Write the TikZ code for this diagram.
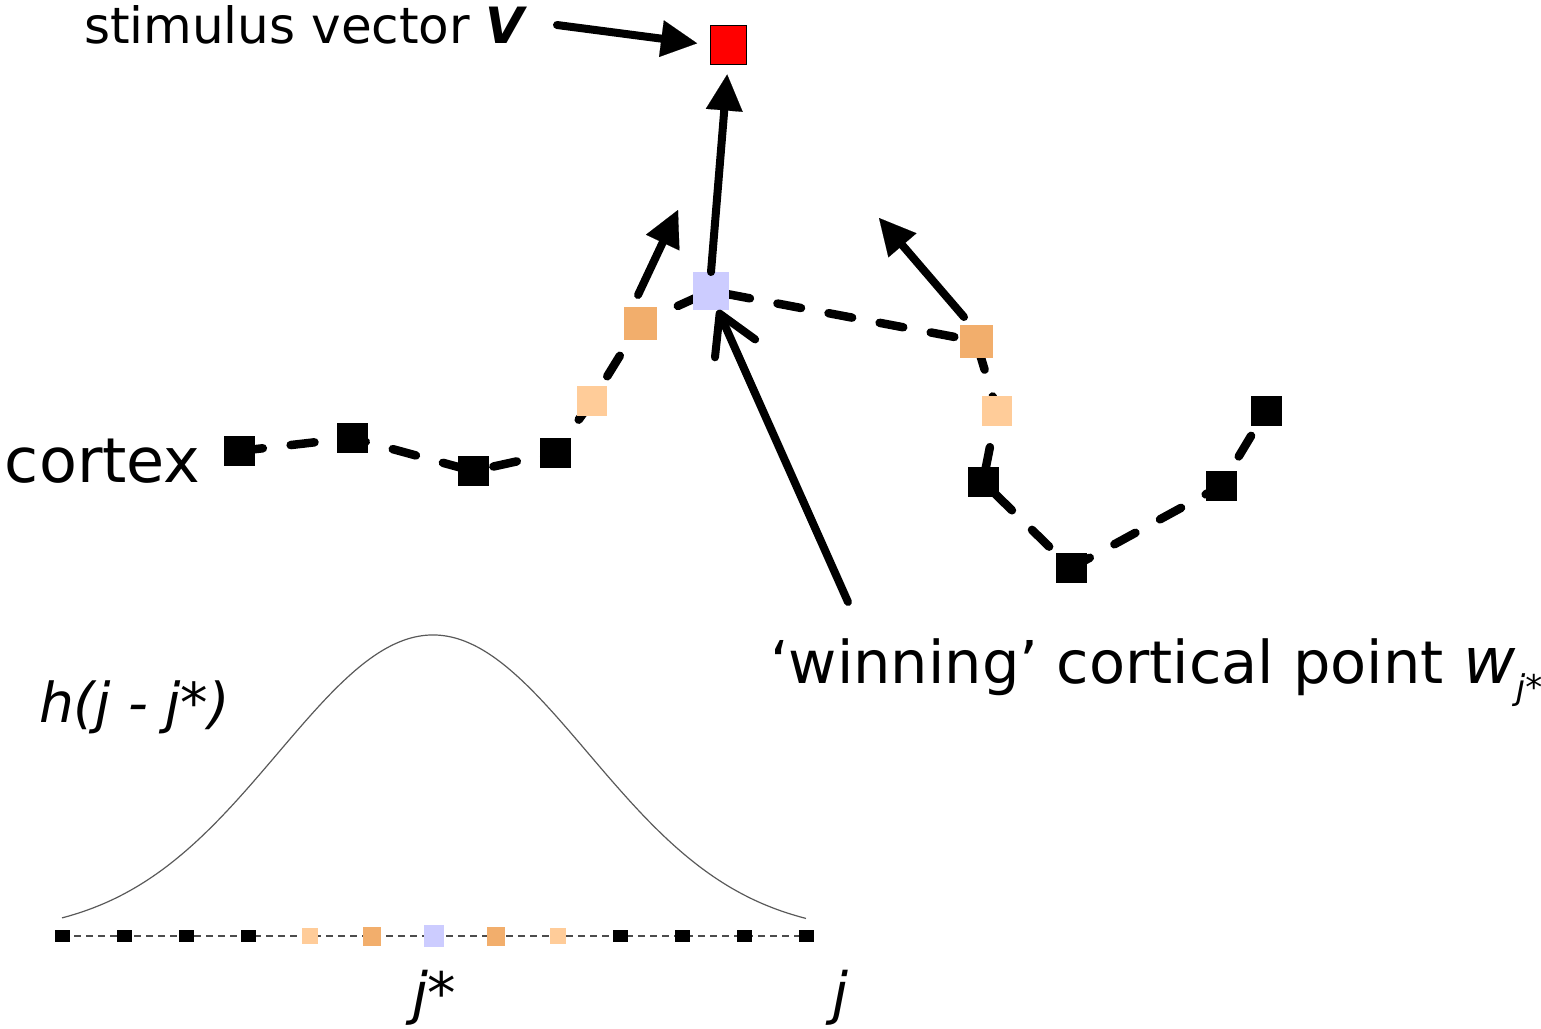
\documentclass[tikz,border=0pt]{standalone}
\usepackage{fontspec}
\setmainfont{DejaVu Sans}
\usetikzlibrary{arrows.meta,backgrounds}
\definecolor{orng}{HTML}{F2AE6C}
\definecolor{lorng}{HTML}{FFCC99}
\definecolor{lblue}{HTML}{CCCCFF}
\begin{document}
\begin{tikzpicture}[x=1pt,y=-1pt,
  blk/.style={rectangle, fill=black, inner sep=0pt, outer sep=0pt, minimum width=31pt, minimum height=30pt},
  org/.style={rectangle, fill=orng, inner sep=0pt, outer sep=0pt, minimum size=33pt},
  lorgbox/.style={rectangle, fill=lorng, inner sep=0pt, outer sep=0pt, minimum size=30pt},
  winbox/.style={rectangle, fill=lblue, inner sep=0pt, outer sep=0pt, minimum width=36pt, minimum height=38pt},
  redbox/.style={rectangle, fill=red, draw=black, line width=1pt, inner sep=0pt, outer sep=0pt, minimum width=36pt, minimum height=39pt},
  sblk/.style={rectangle, fill=black, inner sep=0pt, outer sep=0pt, minimum width=15pt, minimum height=12pt},
  slo/.style={rectangle, fill=lorng, inner sep=0pt, outer sep=0pt, minimum width=16pt, minimum height=16pt},
  sor/.style={rectangle, fill=orng, inner sep=0pt, outer sep=0pt, minimum width=18pt, minimum height=19pt},
  sbl/.style={rectangle, fill=lblue, inner sep=0pt, outer sep=0pt, minimum width=20pt, minimum height=22pt},
  cortexline/.style={line width=8.5pt, dash pattern=on 24pt off 28pt, line cap=round, line join=round},
  axisline/.style={line width=1.3pt, black!70, dash pattern=on 7pt off 5pt},
  gcurve/.style={line width=1.2pt, black!65},
  arr/.style={line width=8pt, line cap=round, -{Triangle[length=36pt,width=37pt,line width=0.1pt]}},
  barbarr/.style={line width=8pt, line cap=round, line join=round, -{Straight Barb[length=38pt,width=44pt,line cap=round,line join=round]}},
  lbl/.style={anchor=base west, inner sep=0pt, outer sep=0pt}
]
\useasboundingbox (0,0) rectangle (1541,1028);

% cortex points
\node[blk] (a1) at (239,451) {};
\node[blk] (a2) at (352,438) {};
\node[blk] (a3) at (473,471) {};
\node[blk] (a4) at (555,453) {};
\node[lorgbox] (a5) at (592,401) {};
\node[org] (a6) at (640,323) {};
\node[winbox] (win) at (711,291) {};
\node[org] (a8) at (976,341) {};
\node[lorgbox] (a9) at (997,411) {};
\node[blk] (a10) at (983,482) {};
\node[blk] (a11) at (1071,568) {};
\node[blk] (a12) at (1221,486) {};
\node[blk] (a13) at (1266,411) {};

\node[redbox] (red) at (728,45) {};

\begin{scope}[on background layer]
\draw[cortexline] (a1.center) -- (a2.center) -- (a3.center) -- (a4.center) -- (a5.center) -- (a6.center) -- (win.center) -- (a8.center) -- (a9.center) -- (a10.center) -- (a11.center) -- (a12.center) -- (a13.center);
\end{scope}

% labels
\node[lbl] (stim) at (84,43) {\fontsize{50}{50}\selectfont stimulus vector \textbf{\textit{V}}};
\node[lbl] (cortexlbl) at (5,482) {\fontsize{62}{62}\selectfont cortex};
\node[lbl] (winlbl) at (770,683) {\fontsize{59}{59}\selectfont ‘winning’ cortical point\hspace{20pt}{\fontsize{64}{64}\selectfont\itshape w}\raisebox{-16pt}{\fontsize{34}{34}\selectfont\itshape j*}};
\node[lbl] (hlbl) at (39,722) {\fontsize{55}{55}\selectfont\itshape h(j - j*)};
\node[lbl] (jstar) at (412,1013) {\fontsize{57}{57}\selectfont\itshape j*};
\node[lbl] (jlbl) at (832,1013) {\fontsize{57}{57}\selectfont\itshape j};

% arrows
\coordinate (sv) at (557,25);
\draw[arr, shorten >=13pt] (sv) -- (red.west);
\draw[arr, shorten >=10pt] (win.north) -- (red.south);
\coordinate (la0) at (638,295);
\coordinate (la1) at (678,210);
\draw[arr] (la0) -- (la1);
\coordinate (ra0) at (964,317);
\coordinate (ra1) at (879,218);
\draw[arr] (ra0) -- (ra1);
\coordinate (wa) at (848,602);
\draw[barbarr] (wa) -- ([xshift=7pt]win.south);

% neighbourhood function
\draw[gcurve] plot[domain=62:806, samples=120, smooth] (\x,{935-300*exp(-0.5*((\x-433)/155)^2)});
\foreach \i/\s in {0/sblk,1/sblk,2/sblk,3/sblk,4/slo,5/sor,6/sbl,7/sor,8/slo,9/sblk,10/sblk,11/sblk,12/sblk}{
  \node[\s] (b\i) at ({62+62*\i},936) {};
}
\begin{scope}[on background layer]
\draw[axisline] (b0.center) -- (b12.center);
\end{scope}
\end{tikzpicture}
\end{document}
